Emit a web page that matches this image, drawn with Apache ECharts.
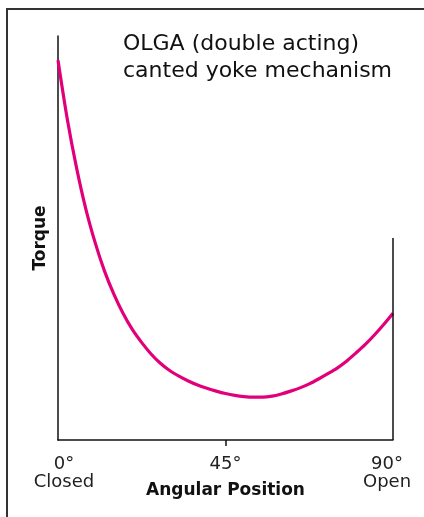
<!DOCTYPE html>
<html>
<head>
    <meta charset="utf-8"/>
    <title>OLGA canted yoke mechanism</title>
    <style>
        html, body { margin: 0; padding: 0; background: #ffffff; }
        #chart { width: 424px; height: 517px; }
    </style>
</head>
<body>
<div id="chart"></div>
<script src="https://cdn.jsdelivr.net/npm/echarts@6/dist/echarts.min.js"></script>
<script>
    // angle in degrees, torque in arbitrary units (axis 0..100)
    var angles = [0, 2.5, 5, 7.5, 10, 12.5, 15, 17.5, 20, 22.5, 25, 27.5, 30, 32.5, 35, 37.5, 40, 42.5, 45,
        47.5, 50, 52.5, 55, 57.5, 60, 62.5, 65, 67.5, 70, 72.5, 75, 77.5, 80, 82.5, 85, 87.5, 90];
    var torque = [94, 79.4, 67.3, 57.1, 48.8, 41.8, 36.1, 31.3, 27.3, 24.1, 21.3, 19, 17.2, 15.8, 14.6, 13.6, 12.8, 12.1, 11.5,
        11.05, 10.75, 10.6, 10.6, 10.85, 11.4, 12.1, 12.9, 13.9, 15.1, 16.4, 17.8, 19.5, 21.5, 23.6, 26, 28.6, 31.4];
    var tickLabels = ['{l|0°}\n{l|Closed}', '45°', '{r|90°}\n{r|Open}'];
    var openLineTop = 50;

    var points = [];
    for (var i = 0; i < angles.length; i++) {
        points.push([angles[i], torque[i]]);
    }

    var myChart = echarts.init(document.getElementById('chart'), null, {renderer: 'canvas'});
    var font = 'DejaVu Sans';
    var option = {
        backgroundColor: '#ffffff',
        animation: false,
        graphic: [
            {
                type: 'rect',
                shape: {x: 7, y: 9, width: 430, height: 530},
                style: {fill: 'none', stroke: '#333333', lineWidth: 2}
            },
            {
                type: 'text',
                left: 123,
                top: 31,
                style: {
                    text: 'OLGA (double acting)\ncanted yoke mechanism',
                    font: '22px "DejaVu Sans"',
                    lineHeight: 27,
                    fill: '#111111'
                }
            }
        ],
        grid: {left: 58, right: 31, top: 36, bottom: 77, outerBoundsMode: 'none'},
        xAxis: {
            type: 'value',
            min: 0,
            max: 90,
            interval: 45,
            name: 'Angular Position',
            nameLocation: 'middle',
            nameGap: 42,
            nameMoveOverlap: false,
            nameTextStyle: {fontFamily: font, fontSize: 17, fontWeight: 'bold', color: '#111111'},
            axisLine: {lineStyle: {color: '#111111', width: 1.5}},
            axisTick: {show: true, length: 6, customValues: [45], lineStyle: {color: '#111111', width: 1.5}},
            axisLabel: {
                margin: 15,
                fontFamily: font,
                fontSize: 18,
                lineHeight: 18,
                color: '#222222',
                verticalAlign: 'top',
                rich: {
                    l: {fontFamily: font, fontSize: 18, lineHeight: 18, color: '#222222', padding: [0, 0, 0, 12]},
                    r: {fontFamily: font, fontSize: 18, lineHeight: 18, color: '#222222', padding: [0, 12, 0, 0]}
                },
                formatter: function (v) {
                    return tickLabels[Math.round(v / 45)];
                }
            },
            splitLine: {show: false}
        },
        yAxis: {
            type: 'value',
            min: 0,
            max: 100,
            name: 'Torque',
            nameLocation: 'middle',
            nameGap: 9,
            nameMoveOverlap: false,
            nameTextStyle: {fontFamily: font, fontSize: 17, fontWeight: 'bold', color: '#111111'},
            axisLine: {show: true, lineStyle: {color: '#111111', width: 1.5}},
            axisTick: {show: false},
            axisLabel: {show: false},
            splitLine: {show: false}
        },
        series: [
            {
                type: 'line',
                data: points,
                smooth: 0.3,
                showSymbol: false,
                lineStyle: {color: '#e2007a', width: 3.2},
                markLine: {
                    silent: true,
                    symbol: 'none',
                    label: {show: false},
                    lineStyle: {color: '#111111', width: 1.5, type: 'solid'},
                    data: [[{coord: [90, 0]}, {coord: [90, openLineTop]}]]
                }
            }
        ]
    };
    myChart.setOption(option);
</script>
</body>
</html>
